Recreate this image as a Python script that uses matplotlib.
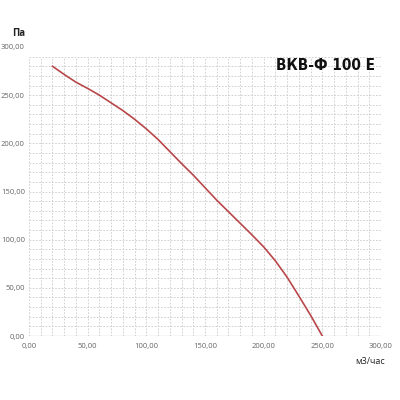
import matplotlib
matplotlib.use("Agg")
import matplotlib.pyplot as plt
import numpy as np

# Data
flow = [20, 30, 40, 50, 60, 70, 80, 90, 100, 110, 120, 130, 140, 150,
        160, 170, 180, 190, 200, 210, 220, 230, 240, 250]
pressure = [280, 271.5, 263.5, 257, 250, 242, 234, 225, 215, 204, 191.5, 179,
            167, 154, 141, 129, 117, 105, 92.5, 78, 61, 41.5, 21.5, 0]

x_ticks = [0, 50, 100, 150, 200, 250, 300]
y_ticks = [0, 50, 100, 150, 200, 250, 300]
x_tick_labels = ["0,00", "50,00", "100,00", "150,00", "200,00", "250,00", "300,00"]
y_tick_labels = ["0,00", "50,00", "100,00", "150,00", "200,00", "250,00", "300,00"]
title = "ВКВ-Ф 100 Е"
y_unit = "Па"
x_unit = "м3/час"

fig = plt.figure(figsize=(4, 4), dpi=100)
ax = fig.add_axes([0.0725, 0.16, 0.88, 0.7225])
ax.set_xlim(0, 300)
ax.set_ylim(0, 300)

grid_kw = dict(color="#d2d2d2", linewidth=0.7, linestyles=(0, (1.8, 1.5)), zorder=1)
ax.vlines(np.arange(0, 301, 10), 0, 290, **grid_kw)
ax.hlines(np.arange(10, 291, 10), 0, 300, **grid_kw)
ax.hlines(0, 0, 300, color="#cccccc", linewidth=1.0, zorder=1)

ax.plot(flow, pressure, color="#b8474a", linewidth=1.2, zorder=3,
        solid_joinstyle="round")

for s in ax.spines.values():
    s.set_visible(False)
ax.set_xticks(x_ticks)
ax.set_xticklabels(x_tick_labels)
ax.set_yticks(y_ticks)
ax.set_yticklabels(y_tick_labels)
ax.tick_params(length=0, labelsize=5.5, labelcolor="#666666", pad=5)
for lbl in ax.get_xticklabels() + ax.get_yticklabels():
    lbl.set_family(["Open Sans", "DejaVu Sans"])
ax.tick_params(axis="y", pad=3)

fig.text(19 / 400, 1 - 33 / 400, y_unit, ha="center", va="center",
         fontsize=7, fontweight="bold", color="#222222", family=["Open Sans", "DejaVu Sans"])
fig.text(370 / 400, 1 - 361 / 400, x_unit, ha="center", va="center",
         fontsize=6.5, color="#222222", family=["Open Sans", "DejaVu Sans"])
fig.text(325 / 400, 1 - 66 / 400, title, ha="center", va="center",
         fontsize=11, fontweight="bold", fontstretch="condensed", color="#111111",
         family=["DejaVu Sans"])

fig.savefig("out.png", dpi=100)
